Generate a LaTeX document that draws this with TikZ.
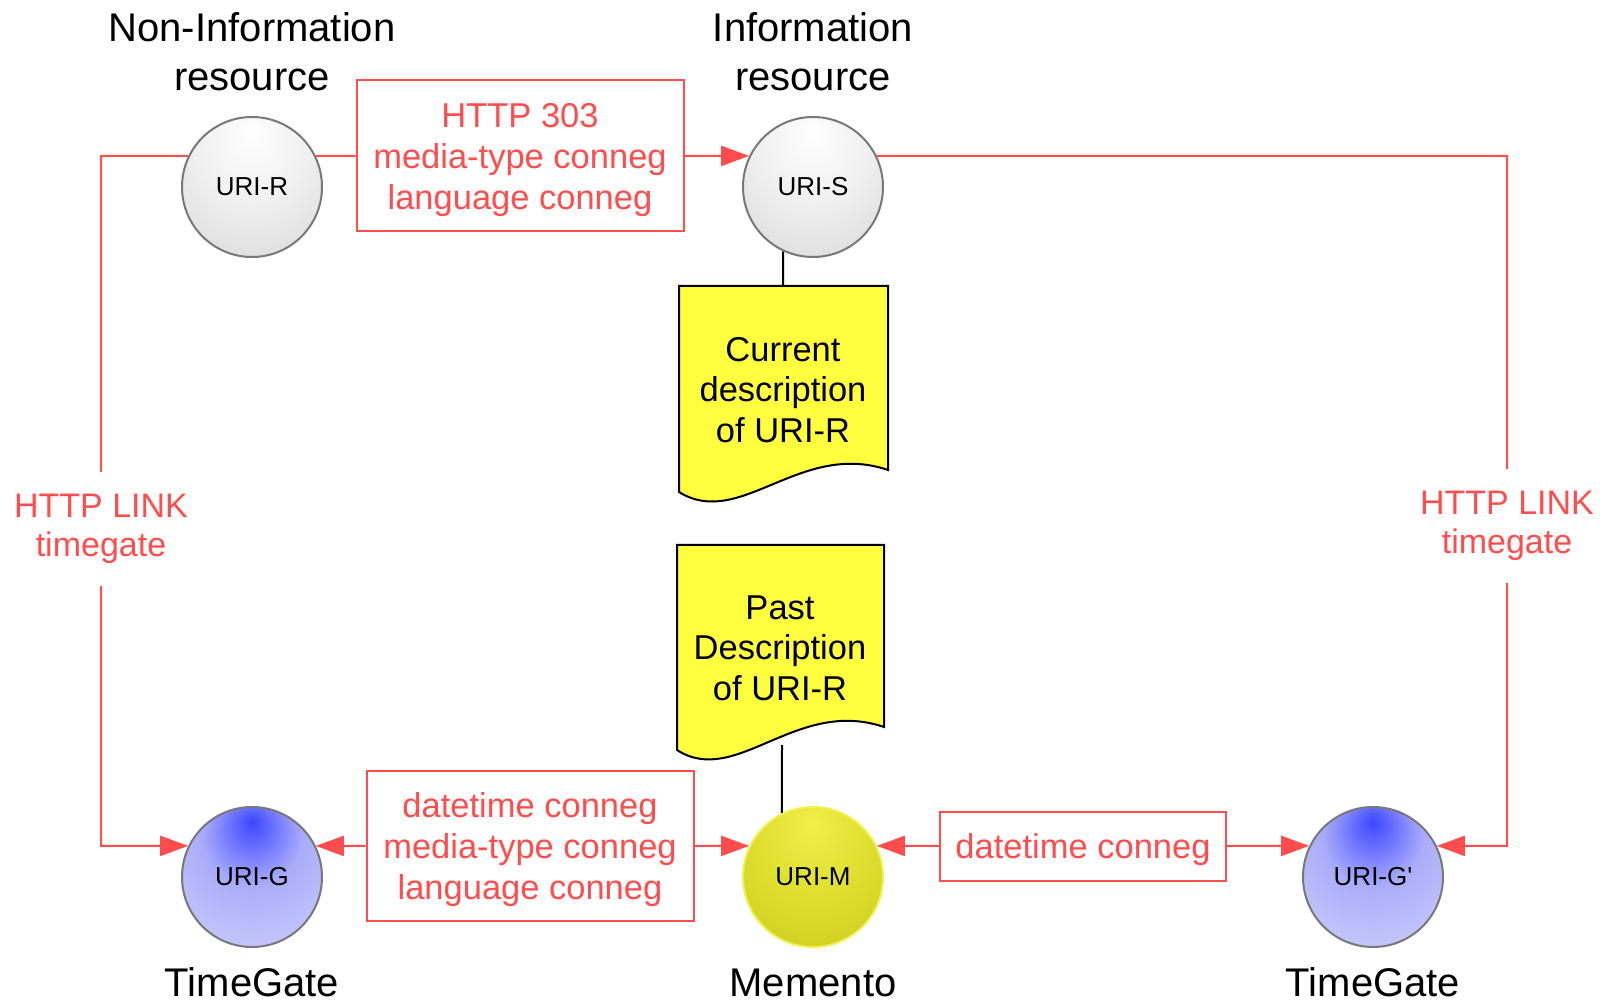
\documentclass[tikz,border=0pt]{standalone}
\usepackage{fontspec}
\setmainfont{Liberation Sans}
\usetikzlibrary{arrows.meta, backgrounds}

\definecolor{linkred}{RGB}{255,77,77}
\definecolor{docyellow}{RGB}{255,255,64}
\definecolor{ringgray}{RGB}{120,120,120}
\definecolor{ringyellow}{RGB}{240,240,80}
\definecolor{bluehi}{RGB}{60,70,255}
\definecolor{bluemid}{RGB}{170,172,250}
\definecolor{bluelo}{RGB}{222,222,252}
\definecolor{yellowhi}{RGB}{240,240,70}
\definecolor{yellowmid}{RGB}{215,215,40}
\definecolor{yellowlo}{RGB}{170,170,20}

\pgfdeclareradialshading{graysphere}{\pgfpoint{0bp}{20bp}}{%
  color(0bp)=(white); color(20bp)=(gray!12); color(45bp)=(gray!32); color(70bp)=(gray!52)}
\pgfdeclareradialshading{bluesphere}{\pgfpoint{0bp}{20bp}}{%
  color(0bp)=(bluehi); color(18bp)=(bluemid); color(45bp)=(bluelo!80!bluemid); color(70bp)=(bluelo)}
\pgfdeclareradialshading{yellowsphere}{\pgfpoint{0bp}{20bp}}{%
  color(0bp)=(yellowhi); color(30bp)=(yellowmid); color(70bp)=(yellowlo)}

\begin{document}
\begin{tikzpicture}[x=0.5pt, y=-0.5pt, >={Triangle[length=14pt, width=10pt]},
  urinode/.style={circle, draw=ringgray, line width=1pt, minimum size=70pt, inner sep=0pt,
    font=\fontsize{13}{15}\selectfont},
  negbox/.style={draw=linkred, line width=1pt, fill=white, text=linkred, align=center,
    inner sep=0pt, text depth=0pt, font=\fontsize{17.25}{20.5}\selectfont},
  linklabel/.style={fill=white, text=linkred, align=center, inner xsep=2pt, inner ysep=11pt,
    font=\fontsize{17}{19.5}\selectfont},
  redlink/.style={draw=linkred, line width=1pt},
  docpage/.style={draw=black, line width=1pt, fill=docyellow},
  doctext/.style={align=center, inner sep=0pt, font=\fontsize{17.25}{20.25}\selectfont},
  rolelabel/.style={align=center, inner sep=0pt, font=\fontsize{20}{24.5}\selectfont}]
  \useasboundingbox (0,0) rectangle (1606,1004);

  % resources
  \node[urinode, shading=graysphere] (uriR) at (252,187) {URI-R};
  \node[urinode, shading=graysphere] (uriS) at (813,187) {URI-S};
  \node[rolelabel, anchor=north] (nonInfo) at (252,12) {Non-Information\\resource};
  \node[rolelabel, anchor=north] (info) at (813,12) {Information\\resource};

  % timegates and memento
  \node[urinode, shading=bluesphere] (uriG) at (252,877) {URI-G};
  \node[urinode, shading=yellowsphere, draw=ringyellow] (uriM) at (813,877) {URI-M};
  \node[urinode, shading=bluesphere] (uriGp) at (1373,877) {URI-G\textquotesingle};
  \node[rolelabel, anchor=base] (tgLeft) at (252,996) {TimeGate};
  \node[rolelabel, anchor=base] (memento) at (813,996) {Memento};
  \node[rolelabel, anchor=base] (tgRight) at (1373,996) {TimeGate};

  % conneg boxes
  \node[negbox, minimum width=163.5pt, minimum height=75.5pt] (conneg303) at (520,156)
    {HTTP 303\\media-type conneg\\language conneg};
  \node[negbox, minimum width=163.5pt, minimum height=75pt] (connegG) at (530,846)
    {datetime conneg\\media-type conneg\\language conneg};
  \node[negbox, minimum width=143pt, minimum height=34.5pt] (connegM) at (1083,846)
    {datetime conneg};

  % current and past descriptions
  \draw[docpage] (679,286) -- (888,286) -- (888,470)
    .. controls (800,440) and (740,530) .. (679,492) -- cycle;
  \node[doctext] (curdoc) at (783,390) {Current\\description\\of URI-R};
  \draw[docpage] (677,545) -- (884,545) -- (884,727)
    .. controls (796,697) and (736,788) .. (677,750) -- cycle;
  \node[doctext] (pastdoc) at (780,648) {Past\\Description\\of URI-R};
  \coordinate (curtop) at (783,286);
  \coordinate (pastbot) at (782,745);

  % timegate links
  \coordinate (leftTop) at (101,156);
  \coordinate (leftBot) at (101,846);
  \coordinate (rightTop) at (1507,156);
  \coordinate (rightBot) at (1507,846);
  \node[linklabel] (linkL) at (101,529) {HTTP LINK\\timegate};
  \node[linklabel] (linkR) at (1507,526) {HTTP LINK\\timegate};

  \begin{scope}[on background layer]
    \draw[redlink] (uriR.26) -- (conneg303.west);
    \draw[redlink, ->] (conneg303.east) -- (uriS.154);
    \draw[redlink, ->] (uriR.154) -- (leftTop) -- (leftBot) -- (uriG.154);
    \draw[redlink, ->] (uriS.26) -- (rightTop) -- (rightBot) -- (uriGp.26);
    \draw[redlink, ->] (connegG.west) -- (uriG.26);
    \draw[redlink, ->] (connegG.east) -- (uriM.154);
    \draw[redlink, ->] (connegM.west) -- (uriM.26);
    \draw[redlink, ->] (connegM.east) -- (uriGp.154);
    % descriptions hang off their URIs
    \draw[line width=1pt] (curtop) -- (uriS.245);
    \draw[line width=1pt] (pastbot) -- (uriM.116);
  \end{scope}
\end{tikzpicture}
\end{document}
